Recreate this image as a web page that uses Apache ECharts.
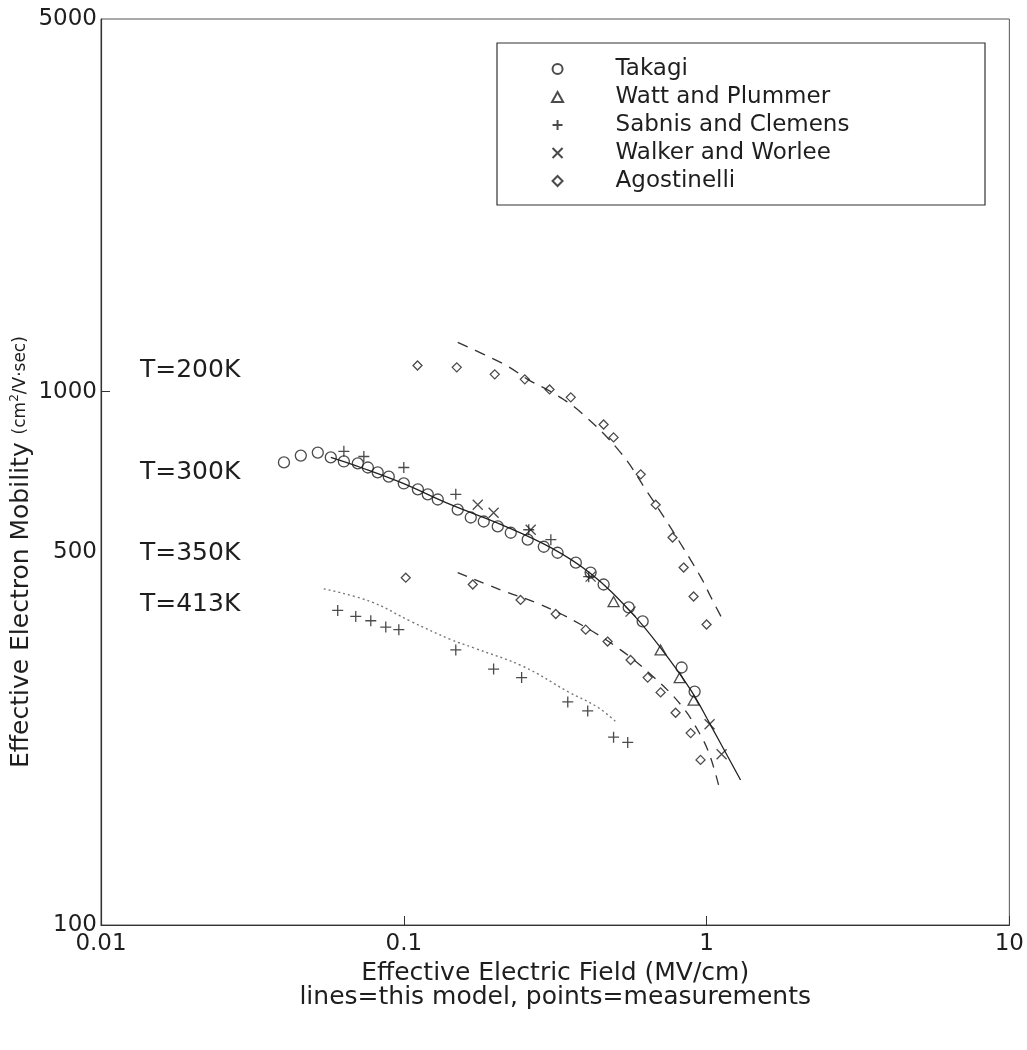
<!DOCTYPE html>
<html>
<head>
<meta charset="utf-8">
<title>Effective Electron Mobility vs Effective Electric Field</title>
<script src="https://cdn.jsdelivr.net/npm/echarts@6/dist/echarts.min.js"></script>
<style>
  html, body { margin: 0; padding: 0; background: #ffffff; }
  #chart { width: 1027px; height: 1050px; }
</style>
</head>
<body>
<div id="chart"></div>
<script>
// Axis tick values
const xTickValues = [0.01, 0.1, 1, 10];
const yTickValues = [100, 500, 1000, 5000];

// Model curves (MV/cm, cm^2/V-sec)
const model200K = [[0.1507, 1238], [0.1837, 1175], [0.2205, 1116], [0.2566, 1055], [0.3126, 993], [0.384, 915], [0.52, 769], [0.639, 647], [0.743, 568], [0.955, 450], [1.031, 413], [1.138, 371]];
const model300K = [[0.0574, 753], [0.0721, 721], [0.0977, 676], [0.143, 614], [0.209, 564], [0.306, 510], [0.414, 456], [0.561, 387], [0.705, 331], [0.886, 276], [1.031, 237], [1.295, 187]];
const model350K = [[0.1507, 458], [0.209, 425], [0.283, 399], [0.384, 366], [0.52, 328], [0.654, 295], [0.821, 259], [0.955, 227], [1.031, 206], [1.112, 177]];
const model413K = [[0.0544, 427], [0.0778, 404], [0.1055, 371], [0.143, 343], [0.17, 331], [0.249, 305], [0.348, 274], [0.437, 256], [0.508, 239]];

// Measurements
const takagi300K = [[0.0402, 737], [0.0457, 759], [0.052, 769], [0.0574, 753], [0.0634, 740], [0.0705, 734], [0.0761, 721], [0.082, 706], [0.0892, 693], [0.1, 673], [0.1113, 656], [0.12, 642], [0.1295, 628], [0.1507, 601], [0.1664, 581], [0.1837, 571], [0.2043, 559], [0.2256, 544], [0.2566, 528], [0.29, 512], [0.322, 499], [0.37, 478], [0.414, 458], [0.457, 435], [0.553, 394], [0.615, 371], [0.827, 304], [0.913, 274]];
const watt300K = [[0.493, 404], [0.705, 328], [0.815, 291], [0.906, 264]];
const sabnis300K = [[0.0634, 773], [0.0738, 756], [0.1, 721], [0.1485, 642], [0.2586, 551], [0.306, 528], [0.408, 450]];
const sabnis413K = [[0.0605, 389], [0.0694, 379], [0.0778, 372], [0.0872, 362], [0.0963, 358], [0.1485, 328], [0.198, 302], [0.245, 291], [0.348, 262], [0.405, 252], [0.493, 225], [0.549, 220]];
const walker300K = [[0.1755, 614], [0.198, 593], [0.2625, 551], [0.414, 450], [0.561, 387], [1.023, 238], [1.121, 209]];
const agostinelli200K = [[0.111, 1120], [0.1496, 1111], [0.1997, 1078], [0.251, 1055], [0.303, 1010], [0.356, 976], [0.457, 868], [0.493, 821], [0.606, 700], [0.679, 614], [0.772, 533], [0.84, 468], [0.906, 413], [1.0, 366]];
const agostinelli350K = [[0.1015, 448], [0.169, 435], [0.243, 407], [0.3176, 383], [0.3988, 358], [0.471, 340], [0.561, 314], [0.639, 291], [0.705, 273], [0.79, 250], [0.886, 229], [0.955, 204]];

const temperatureLabels = ['T=200K', 'T=300K', 'T=350K', 'T=413K'];
const legendNames = ['Takagi', 'Watt and Plummer', 'Sabnis and Clemens', 'Walker and Worlee', 'Agostinelli'];

const FONT = 'DejaVu Sans';
const INK = '#1e1e1e';

// Outline marker shapes drawn as paths so they keep their aspect in the legend
const plusPath = 'path://M5,0L5,10M0,5L10,5';
const crossPath = 'path://M0,0L10,10M0,10L10,0';
const trianglePath = 'path://M5,0L10,9L0,9Z';
const diamondPath = 'path://M5,0L10,5L5,10L0,5Z';

function markers(name, data, symbol, size) {
  return {
    name: name,
    type: 'scatter',
    data: data,
    symbol: symbol,
    symbolSize: size,
    symbolKeepAspect: true,
    itemStyle: { color: 'rgba(0,0,0,0)', borderColor: INK, borderWidth: 1.3 },
    z: 4
  };
}

function model(name, data, lineType, color, width) {
  return {
    name: name,
    type: 'line',
    data: data,
    smooth: 0.4,
    showSymbol: false,
    symbol: 'none',
    lineStyle: { color: color, width: width, type: lineType },
    z: 3,
    silent: true
  };
}

const chart = echarts.init(document.getElementById('chart'), null, { renderer: 'canvas' });

const option = {
  backgroundColor: '#ffffff',
  animation: false,
  textStyle: { fontFamily: FONT, color: INK },
  grid: {
    left: 101, right: 17, top: 19, bottom: 125,
    show: true, borderColor: '#555', borderWidth: 1, backgroundColor: 'transparent'
  },
  legend: {
    orient: 'vertical',
    left: 551,
    top: 57,
    padding: 0,
    itemWidth: 106,
    itemHeight: 10,
    itemGap: 4,
    symbolKeepAspect: true,
    selectedMode: false,
    data: legendNames,
    textStyle: { fontFamily: FONT, fontSize: 23, color: INK, lineHeight: 24 }
  },
  xAxis: {
    type: 'log',
    logBase: 10,
    min: 0.01,
    max: 10,
    name: 'Effective Electric Field (MV/cm)\nlines=this model, points=measurements',
    nameLocation: 'middle',
    nameGap: 35,
    nameTextStyle: { fontFamily: FONT, fontSize: 25, color: INK, lineHeight: 24 },
    axisLine: { show: true, lineStyle: { color: '#333', width: 1.2 } },
    axisTick: { show: true, inside: true, length: 9, customValues: xTickValues, lineStyle: { color: '#333' } },
    minorTick: { show: false },
    splitLine: { show: false },
    axisLabel: {
      customValues: xTickValues,
      fontFamily: FONT, fontSize: 23, color: INK, margin: 8,
      formatter: function (v) { return String(+v.toPrecision(3)); }
    }
  },
  yAxis: {
    type: 'log',
    logBase: 10,
    min: 100,
    max: 5000,
    axisLine: { show: true, lineStyle: { color: '#333', width: 1.2 } },
    axisTick: { show: true, inside: true, length: 9, customValues: [100, 1000], lineStyle: { color: '#333' } },
    minorTick: { show: false },
    splitLine: { show: false },
    axisLabel: {
      customValues: yTickValues,
      fontFamily: FONT, fontSize: 23, color: INK, margin: 4,
      formatter: function (v) { return String(Math.round(v)); }
    }
  },
  graphic: [
    {
      type: 'rect',
      shape: { x: 497, y: 43, width: 488, height: 162 },
      style: { fill: '#ffffff', stroke: '#333', lineWidth: 1.2 },
      z: 1
    },
    {
      type: 'text',
      x: 21, y: 768,
      rotation: Math.PI / 2,
      style: {
        text: '{m|Effective Electron Mobility }{s|(cm}{p|2}{s|/V·sec)}',
        align: 'left',
        verticalAlign: 'middle',
        fill: INK,
        rich: {
          m: { fontFamily: FONT, fontSize: 25, fill: INK },
          s: { fontFamily: FONT, fontSize: 17, fill: INK },
          p: { fontFamily: FONT, fontSize: 12, fill: INK, verticalAlign: 'top', padding: [0, 0, 10, 0] }
        }
      }
    },
    { type: 'text', x: 140, y: 370, style: { text: temperatureLabels[0], font: '25px "DejaVu Sans"', fill: INK, verticalAlign: 'middle' } },
    { type: 'text', x: 140, y: 472, style: { text: temperatureLabels[1], font: '25px "DejaVu Sans"', fill: INK, verticalAlign: 'middle' } },
    { type: 'text', x: 140, y: 553, style: { text: temperatureLabels[2], font: '25px "DejaVu Sans"', fill: INK, verticalAlign: 'middle' } },
    { type: 'text', x: 140, y: 604, style: { text: temperatureLabels[3], font: '25px "DejaVu Sans"', fill: INK, verticalAlign: 'middle' } }
  ],
  series: [
    model('200K model', model200K, [11, 8], '#333', 1.3),
    model('300K model', model300K, 'solid', '#222', 1.3),
    model('350K model', model350K, [10, 8], '#333', 1.3),
    model('413K model', model413K, [2, 3], '#777', 1.4),
    markers('Takagi', takagi300K, 'circle', 11),
    markers('Watt and Plummer', watt300K, trianglePath, 11),
    markers('Sabnis and Clemens', sabnis300K, plusPath, 11),
    markers('Sabnis and Clemens', sabnis413K, plusPath, 11),
    markers('Walker and Worlee', walker300K, crossPath, 10),
    markers('Agostinelli', agostinelli200K, diamondPath, 9),
    markers('Agostinelli', agostinelli350K, diamondPath, 9)
  ]
};

chart.setOption(option);
</script>
</body>
</html>
